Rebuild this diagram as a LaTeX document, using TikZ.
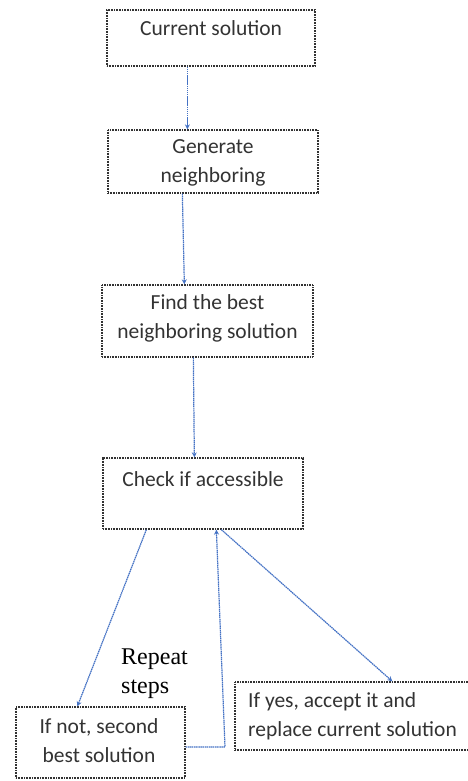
\documentclass[tikz,border=0pt]{standalone}
\usepackage{fontspec}
\setmainfont{Liberation Serif}
\newfontfamily\boxfont{Carlito}
\usetikzlibrary{arrows.meta}
\definecolor{arrowblue}{RGB}{68,114,196}
\definecolor{boxline}{RGB}{50,50,50}
\tikzset{
  boxnode/.style={draw=boxline, line width=1.3pt, dash pattern=on 1pt off 0.6pt, fill=white, inner sep=0pt, rectangle},
  boxtext/.style={font=\boxfont\fontsize{21.5}{29}\selectfont, text=black!80, inner sep=0pt, align=center},
  flow/.style={draw=arrowblue, line width=1.2pt, dash pattern=on 1.5pt off 0.6pt, -{Stealth[length=5pt,width=5pt,open]}}
}
\begin{document}
\begin{tikzpicture}[x=1pt,y=-1pt]
\useasboundingbox (0,0) rectangle (468,781);
% boxes
\node[boxnode, minimum width=208pt, minimum height=56pt] (b1) at (211,38) {};
\node[boxnode, minimum width=210pt, minimum height=63pt] (b2) at (213,161.5) {};
\node[boxnode, minimum width=211pt, minimum height=72pt] (b3) at (207.5,321) {};
\node[boxnode, minimum width=200pt, minimum height=71pt] (b4) at (203,493.5) {};
\node[boxnode, minimum width=169pt, minimum height=71pt] (b5) at (100.5,742.5) {};
\node[boxnode, minimum width=237pt, minimum height=68pt] (b6) at (353.5,716) {};
% texts
\node[boxtext] (t1) at (211,28) {Current solution};
\node[boxtext] (t2) at (213,163) {Generate\\neighboring};
\node[boxtext] (t3) at (207.5,318) {Find the best\\neighboring solution};
\node[boxtext] (t4) at (203,479) {Check if accessible};
\node[boxtext] (t5) at (99,741) {If not, second\\best solution};
\node[boxtext, align=left, anchor=west] (t6) at (248,716) {If yes, accept it and\\replace current solution};
\node[font=\fontsize{24}{29}\selectfont, align=left, anchor=west, inner sep=0pt] (rep) at (121,673.5) {Repeat\\steps};
% connectors
\draw[flow] ([xshift=81pt]b1.south west) -- ([xshift=80pt]b2.north west);
\draw[flow] ([xshift=75pt]b2.south west) -- ([xshift=83pt]b3.north west);
\draw[flow] ([xshift=92pt]b3.south west) -- ([xshift=92pt]b4.north west);
\draw[flow] ([xshift=44pt]b4.south west) -- ([xshift=62pt]b5.north west);
\draw[flow] ([xshift=119pt]b4.south west) -- ([xshift=158pt]b6.north west);
\coordinate (bend) at (225,747);
\draw[flow] ([yshift=-4.5pt]b5.east) -- (bend) -- ([xshift=114pt]b4.south west);
\end{tikzpicture}
\end{document}
